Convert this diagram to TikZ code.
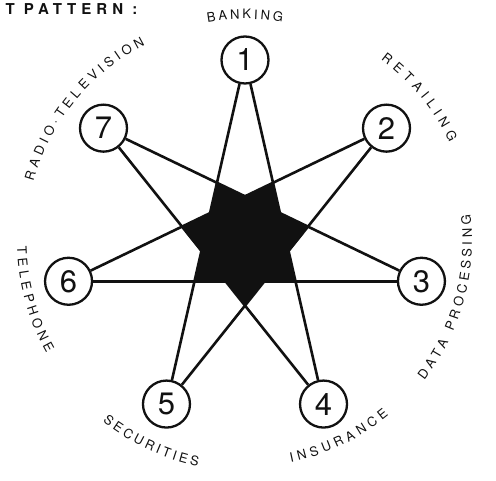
\documentclass[tikz,border=0pt]{standalone}
\usepackage{fontspec}
\setmainfont{TeX Gyre Heros}
\usepackage{tikz}
\usetikzlibrary{decorations.text}
\definecolor{ink}{HTML}{111111}
\definecolor{paper}{HTML}{FFFFFF}
\tikzset{
  sector/.style ={circle, draw=ink, line width=2.3pt, fill=paper,
                  minimum size=47pt, inner sep=0pt, text=ink,
                  font=\fontsize{31}{31}\selectfont},
  link/.style   ={draw=ink, line width=2.6pt},
  hub/.style    ={fill=ink},
  tag/.style    ={decorate, decoration={text along path, text align=fit to path,
                  text color=ink, text={|\fontsize{13}{13}\selectfont|#1}}},
  heading/.style={anchor=base west, text=ink,
                  font=\bfseries\fontsize{15}{15}\selectfont\addfontfeature{LetterSpace=34}}
}

\begin{document}
\begin{tikzpicture}[x=1pt, y=1pt]
  \useasboundingbox (-245,-240) rectangle (251,241);
  \node[heading] (title) at (-243,226) {T PATTERN :};

  % central star
  \fill[hub] (-90:64.6) \foreach \k in {1,...,7} {
      -- ({-90+51.4286*(\k-0.5)}:44.7) -- ({-90+51.4286*\k}:64.6) } -- cycle;

  % industries
  \foreach \i in {1,...,7}
    \node[sector] (v\i) at ({90-51.4286*(\i-1)}:181) {\i};

  \foreach \a/\b in {1/4, 4/7, 7/3, 3/6, 6/2, 2/5, 5/1}
    \draw[link] (v\a) -- (v\b);

  % labels round the ring
  \path[tag=BANKING] (99.7:222) arc[start angle=99.7, end angle=80.3, radius=222];
  \path[tag=RETAILING] (53.25:227) arc[start angle=53.25, end angle=25.75, radius=227];
  \path[tag=DATA PROCESSING] (-37.85:227) arc[start angle=-37.85, end angle=6.65, radius=227];
  \path[tag=INSURANCE] (-78.3:226) arc[start angle=-78.3, end angle=-50.5, radius=226];
  \path[tag=SECURITIES] (-128.2:230) arc[start angle=-128.2, end angle=-101.8, radius=230];
  \path[tag=TELEPHONE] (181.5:228) arc[start angle=181.5, end angle=209.5, radius=228];
  \path[tag=RADIO·TELEVISION] (164.2:220) arc[start angle=164.2, end angle=117, radius=220];
\end{tikzpicture}
\end{document}
